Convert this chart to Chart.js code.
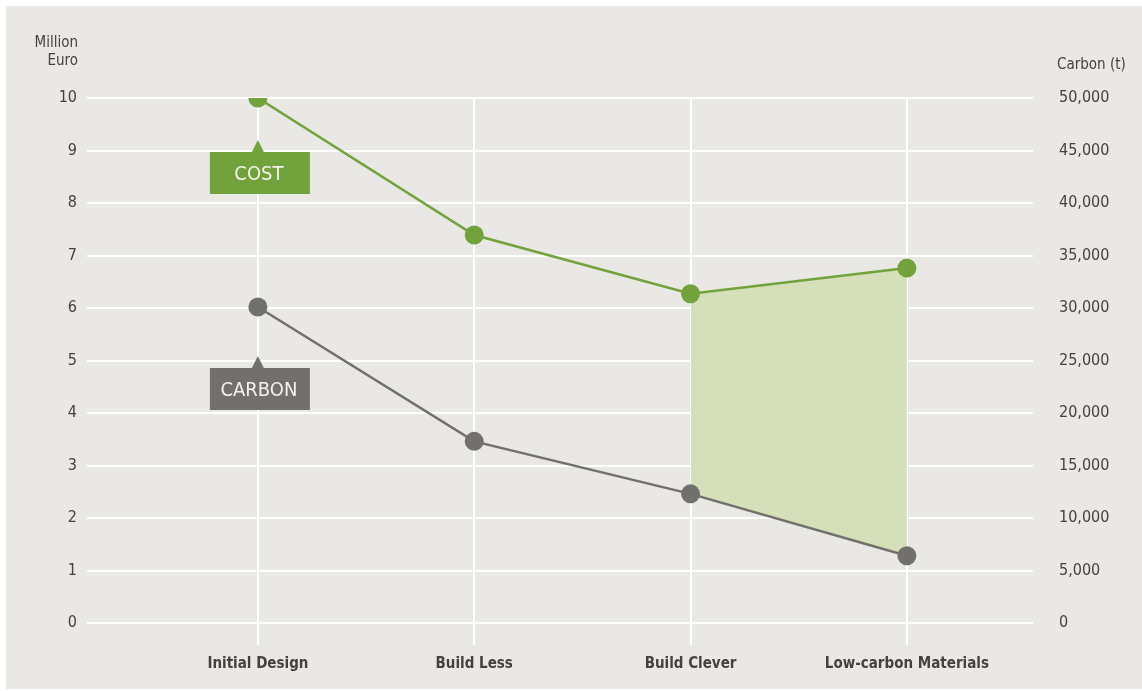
<!DOCTYPE html>
<html>
<head>
<meta charset="utf-8">
<script src="https://cdn.jsdelivr.net/npm/chart.js@4.4.1/dist/chart.umd.min.js"></script>
<style>
  html, body { margin: 0; padding: 0; background: #ffffff; }
  .panel { position: absolute; left: 6px; top: 6px; width: 1136px; height: 683px; background: #e9e8e4; }
</style>
</head>
<body>
<div class="panel"><canvas id="chart"></canvas></div>
<script>
// chart data
var categories = ['Initial Design', 'Build Less', 'Build Clever', 'Low-carbon Materials'];
var costValues = [10, 7.39, 6.27, 6.76];          // Million Euro
var carbonValues = [30100, 17300, 12300, 6400];   // Carbon (t)
var gapStart = 2;                                 // shaded area starts at Build Clever

var GREEN = '#72a23b';
var GREY = '#72706d';
var TEXT = '#45413e';
var FONT = "'DejaVu Sans Condensed', 'Liberation Sans', sans-serif";

function points(vals, from) {
    var out = [];
    for (var i = from; i < vals.length; i++) {
        out.push({ x: i, y: vals[i] });
    }
    return out;
}

var labelsPlugin = {
    id: 'labels',
    afterDraw: function (chart) {
        var c = chart.ctx;
        var x = chart.scales.x, y = chart.scales.y;
        c.save();
        // axis titles
        c.fillStyle = TEXT;
        c.font = "15px " + FONT;
        c.textBaseline = 'middle';
        c.textAlign = 'right';
        c.fillText('Million', 72, 37);
        c.fillText('Euro', 72, 55);
        c.textAlign = 'left';
        c.fillText('Carbon (t)', 1051, 59);

        // COST / CARBON tags
        var cx = x.getPixelForValue(0) + 2;
        var tags = [
            { text: 'COST', color: GREEN, top: y.getPixelForValue(9) + 1.5 },
            { text: 'CARBON', color: GREY, top: y.getPixelForValue(5) + 7.5 }
        ];
        tags.forEach(function (t) {
            c.fillStyle = t.color;
            c.fillRect(cx - 50, t.top, 100, 42);
            c.beginPath();
            c.moveTo(cx - 2 - 6, t.top);
            c.lineTo(cx - 2, t.top - 12);
            c.lineTo(cx - 2 + 6, t.top);
            c.closePath();
            c.fill();
            c.fillStyle = '#f4f2ea';
            c.font = "20px " + FONT;
            c.textAlign = 'center';
            c.textBaseline = 'middle';
            c.fillText(t.text, cx - 1, t.top + 23);
        });
        c.restore();
    }
};

var ctx = document.getElementById('chart').getContext('2d');
var chart = new Chart(ctx, {
    type: 'line',
    data: {
        datasets: [
            {
                label: 'Cost',
                data: points(costValues, 0),
                yAxisID: 'y',
                borderColor: GREEN,
                backgroundColor: GREEN,
                borderWidth: 2.5,
                pointRadius: 9.5,
                pointBorderWidth: 0,
                pointBackgroundColor: GREEN,
                fill: false
            },
            {
                label: 'Carbon',
                data: points(carbonValues, 0),
                yAxisID: 'y1',
                borderColor: GREY,
                backgroundColor: GREY,
                borderWidth: 2.5,
                pointRadius: 9.5,
                pointBorderWidth: 0,
                pointBackgroundColor: GREY,
                fill: false
            },
            {
                label: 'gap',
                data: points(costValues, gapStart),
                yAxisID: 'y',
                borderWidth: 0,
                pointRadius: 0,
                backgroundColor: '#d5dfb9',
                fill: { target: 3 }
            },
            {
                label: 'gapBase',
                data: points(carbonValues, gapStart),
                yAxisID: 'y1',
                borderWidth: 0,
                pointRadius: 0,
                showLine: false,
                fill: false
            }
        ]
    },
    options: {
        responsive: true,
        maintainAspectRatio: false,
        animation: false,
        layout: { padding: { top: 92, left: 0, right: 0, bottom: 0 } },
        plugins: {
            legend: { display: false },
            tooltip: { enabled: false }
        },
        scales: {
            x: {
                type: 'linear',
                min: -0.79,
                max: 3.583,
                afterBuildTicks: function (scale) {
                    scale.ticks = categories.map(function (c, i) { return { value: i }; });
                },
                afterFit: function (scale) { scale.height = 66; },
                grid: { color: '#ffffff', lineWidth: 2, tickLength: 22, drawTicks: true },
                border: { display: false },
                ticks: {
                    autoSkip: false,
                    maxRotation: 0,
                    padding: 10,
                    color: TEXT,
                    font: { family: FONT, size: 15, weight: 'bold' },
                    callback: function (v) { return categories[v]; }
                }
            },
            y: {
                position: 'left',
                min: 0,
                max: 10,
                afterFit: function (scale) { scale.width = 81; },
                grid: { color: '#ffffff', lineWidth: 2, drawTicks: false },
                border: { display: false },
                ticks: {
                    stepSize: 1,
                    padding: 10,
                    color: TEXT,
                    font: { family: FONT, size: 16 }
                }
            },
            y1: {
                position: 'right',
                min: 0,
                max: 50000,
                afterFit: function (scale) { scale.width = 109; },
                grid: { display: false },
                border: { display: false },
                ticks: {
                    stepSize: 5000,
                    padding: 18,
                    color: TEXT,
                    font: { family: FONT, size: 16 },
                    callback: function (v) { return v.toLocaleString('en-US'); }
                }
            }
        }
    },
    plugins: [labelsPlugin]
});
</script>
</body>
</html>
